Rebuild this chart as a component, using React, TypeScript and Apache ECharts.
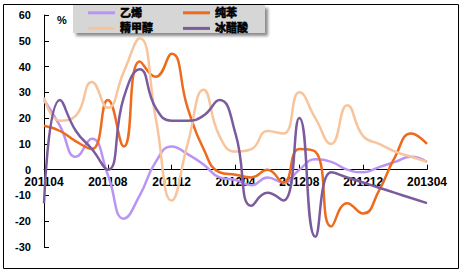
import React, { useEffect, useRef } from "react";
import * as echarts from "echarts";

const months = [
  "201104", "201105", "201106", "201107", "201108", "201109", "201110", "201111", "201112",
  "201201", "201202", "201203", "201204", "201205", "201206", "201207", "201208", "201209",
  "201210", "201211", "201212", "201301", "201302", "201303", "201304",
];

const ethylene = [27, 17, 5, 12, -2, -19, -10, 3, 9, 6, 2, -3, -4, -6, -3, -5, 0, 4, 3, 0, -1, 1, 3, 5, 3];
const benzene = [17, 15, 11, 8, 27, 9, 42, 36, 45, 24, 8, -1, -2, -3, 0, -5, 8, 7, -22, -13, -17, -8, 5, 14, 10];
const methanol = [28, 19, 21, 34, 24, 38, 51, 20, -12, 10, 31, 13, 7, 8, 15, 14, 30, 20, 10, 25, 13, 10, 7, 5, 3];
const aceticAcid = [-13, 27, 15, 8, 0, 28, 39, 24, 19, 19, 21, 27, 14, -14, -9, -12, 20, -26, -1, -3, -5, -7, -9, -11, -13];

const yTicks = { min: -30, max: 60, step: 10 };

const seriesNames = ["乙烯", "纯苯", "精甲醇", "冰醋酸"];
const seriesColors = ["#BA94F5", "#EE6A1C", "#F8C49C", "#7A5C9E"];
const seriesData = [ethylene, benzene, methanol, aceticAcid];

const FONT = '"Liberation Sans", Arial, "Noto Sans CJK SC", sans-serif';

const W = 463;
const H = 275;
const GRID = { left: 44, right: 36, top: 15, bottom: 28 };

export default function App() {
  const ref = useRef<HTMLDivElement>(null);

  useEffect(() => {
    if (!ref.current) return;
    const chart = echarts.init(ref.current, null, { renderer: "svg" });
    const plotH = H - GRID.top - GRID.bottom;
    const zeroOffset = (plotH * (0 - yTicks.min)) / (yTicks.max - yTicks.min);
    const legendText = {
      fontSize: 11,
      fontWeight: "bold",
      color: "#000",
      fontFamily: FONT,
      textBorderColor: "#000",
      textBorderWidth: 0.6,
    };
    const legendCommon = {
      orient: "vertical",
      top: 5,
      padding: [2, 5],
      itemWidth: 27,
      itemHeight: 3,
      itemGap: 4,
      icon: "rect",
      selectedMode: false,
      textStyle: legendText,
    };
    chart.setOption({
      animation: false,
      backgroundColor: "#fff",
      grid: { ...GRID, containLabel: false },
      graphic: [
        {
          type: "rect",
          z: 0,
          shape: { x: 3.5, y: 4.5, width: 455, height: 264 },
          style: { fill: "none", stroke: "#000", lineWidth: 1 },
        },
        {
          type: "rect",
          z: 1,
          shape: { x: 73, y: 5, width: 192, height: 28 },
          style: {
            fill: "#D6D6D6",
            shadowBlur: 3,
            shadowOffsetX: 3,
            shadowOffsetY: 3,
            shadowColor: "rgba(0,0,0,0.45)",
          },
        },
        {
          type: "text",
          z: 5,
          left: 57,
          top: 14,
          style: { text: "%", fontSize: 11, fontWeight: "bold", fill: "#000", fontFamily: FONT },
        },
      ],
      legend: [
        { ...legendCommon, data: [seriesNames[0], seriesNames[2]], left: 83 },
        { ...legendCommon, data: [seriesNames[1], seriesNames[3]], left: 178 },
      ],
      xAxis: {
        type: "category",
        data: months,
        boundaryGap: false,
        position: "bottom",
        offset: -zeroOffset,
        axisLine: { onZero: false, lineStyle: { color: "#000", width: 1 } },
        axisTick: { inside: true, length: 5, interval: 3, lineStyle: { color: "#000" } },
        axisLabel: {
          interval: 3,
          fontSize: 12,
          fontWeight: "bold",
          color: "#000",
          fontFamily: FONT,
          margin: 6,
        },
        splitLine: { show: false },
      },
      yAxis: {
        type: "value",
        min: yTicks.min,
        max: yTicks.max,
        interval: yTicks.step,
        axisLine: { show: true, lineStyle: { color: "#000", width: 1 } },
        axisTick: { show: true, inside: true, length: 5, lineStyle: { color: "#000" } },
        axisLabel: { fontSize: 11, fontWeight: "bold", color: "#000", fontFamily: FONT, margin: 13 },
        splitLine: { show: false },
      },
      series: seriesNames.map((name, i) => ({
        name,
        type: "line",
        data: seriesData[i],
        smooth: 0.5,
        showSymbol: false,
        symbol: "none",
        color: seriesColors[i],
        lineStyle: { color: seriesColors[i], width: 2.5 },
        itemStyle: { color: seriesColors[i] },
        z: 2 + i,
      })),
    });
    return () => chart.dispose();
  }, []);

  return (
    <div
      ref={ref}
      style={{ position: "fixed", left: 0, top: 0, width: W, height: H, background: "#fff" }}
    />
  );
}
